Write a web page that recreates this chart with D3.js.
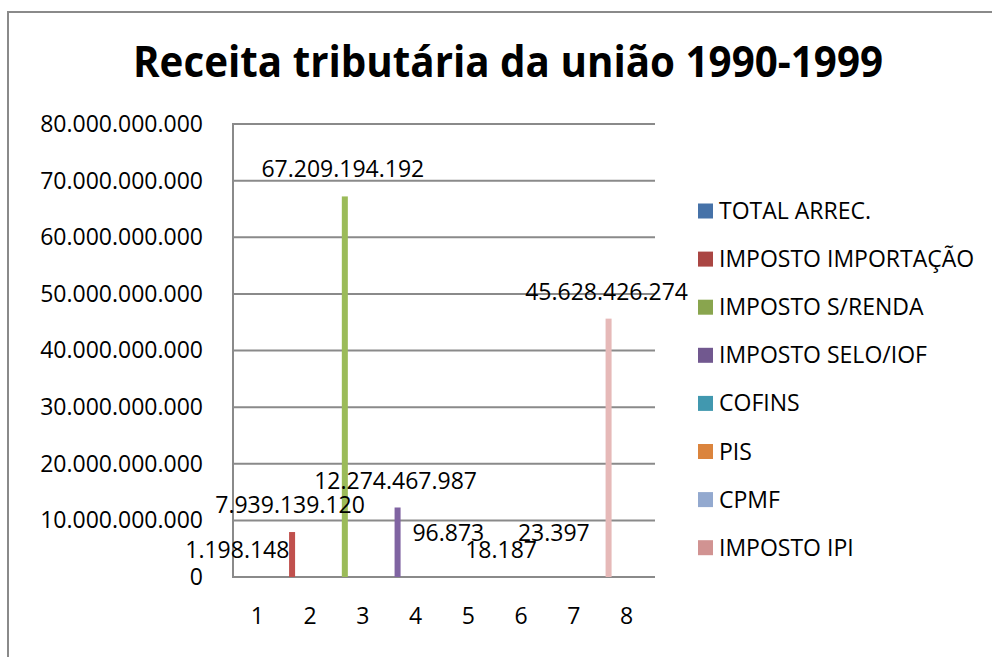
<!DOCTYPE html>
<html>
<head>
<meta charset="utf-8">
<script src="https://cdn.jsdelivr.net/npm/d3@7"></script>
<style>
    body { margin: 0; background: #ffffff; }
    text { font-family: "Open Sans", sans-serif; fill: #000; }
</style>
</head>
<body>
<svg id="drawing_region"></svg>
<script>
const categories = ['1', '2', '3', '4', '5', '6', '7', '8'];
const seriesNames = ['TOTAL ARREC.', 'IMPOSTO IMPORTAÇÃO', 'IMPOSTO S/RENDA', 'IMPOSTO SELO/IOF',
                     'COFINS', 'PIS', 'CPMF', 'IMPOSTO IPI'];
// each series only has a value in its own category
const seriesValues = [1198148, 7939139120, 67209194192, 12274467987, 96873, 18187, 23397, 45628426274];
const yTicks = [0, 10e9, 20e9, 30e9, 40e9, 50e9, 60e9, 70e9, 80e9];

const barColors = ['#4F81BD', '#C0504D', '#9BBB59', '#8064A2', '#4BACC6', '#F79646', '#95B3D7', '#E6B9B8'];
const legendColors = ['#4672A8', '#AA4643', '#89A54E', '#71588F', '#4198AF', '#DB843D', '#93A9CF', '#D19392'];
// extra lift of a few labels, as they were moved in the original
const labelLift = [0, 0, 0, 0, 17, 0, 17, 0];

const ptBR = d3.formatLocale({ decimal: ',', thousands: '.', grouping: [3], currency: ['R$', ''] });
const fmt = ptBR.format(',d');

const config = {
    parent: '#drawing_region',
    width: 992,
    height: 657,
    fontSize: 23,
    plot: { left: 233, right: 655, top: 124, bottom: 577 }
};

class BarChart {
    constructor( config ) {
        this.config = config;
        this.init();
    }

    init() {
        let self = this;
        self.svg = d3.select( self.config.parent )
            .attr('width', self.config.width)
            .attr('height', self.config.height);

        const p = self.config.plot;
        self.x = d3.scaleBand().domain(categories).range([p.left, p.right]).padding(0);
        self.y = d3.scaleLinear().domain([0, 80e9]).range([p.bottom, p.top]);
    }

    render() {
        let self = this;
        const p = self.config.plot;
        const fs = self.config.fontSize;
        const bw = self.x.bandwidth();

        // chart border
        self.svg.append('rect')
            .attr('x', 8).attr('y', 12)
            .attr('width', 1000).attr('height', 700)
            .attr('fill', 'none')
            .attr('stroke', '#8a8a8a')
            .attr('stroke-width', 2);

        self.svg.append('text')
            .attr('x', 508).attr('y', 77)
            .attr('text-anchor', 'middle')
            .attr('font-size', 43)
            .attr('font-weight', 'bold')
            .attr('textLength', 750)
            .attr('lengthAdjust', 'spacingAndGlyphs')
            .text('Receita tributária da união 1990-1999');

        // gridlines
        self.svg.append('g')
            .selectAll('line')
            .data(yTicks)
            .join('line')
            .attr('x1', p.left).attr('x2', p.right)
            .attr('y1', d => self.y(d)).attr('y2', d => self.y(d))
            .attr('stroke', '#8a8a8a')
            .attr('stroke-width', 2);

        // y axis
        const yAxis = self.svg.append('g')
            .attr('transform', `translate(${p.left},0)`)
            .call(d3.axisLeft(self.y).tickValues(yTicks).tickFormat(fmt).tickSize(0).tickPadding(30));
        yAxis.select('.domain')
            .attr('stroke', '#8a8a8a').attr('stroke-width', 2)
            .attr('d', `M0,${p.top - 1}V${p.bottom + 1}`);
        yAxis.selectAll('text')
            .attr('font-size', fs)
            .attr('font-family', '"Open Sans", sans-serif')
            .attr('fill', '#000');

        // x axis
        const xAxis = self.svg.append('g')
            .attr('transform', `translate(0,${p.bottom})`)
            .call(d3.axisBottom(self.x).tickSize(0).tickPadding(31));
        xAxis.select('.domain').remove();
        xAxis.selectAll('text')
            .attr('font-size', fs)
            .attr('font-family', '"Open Sans", sans-serif')
            .attr('fill', '#000')
            .attr('dx', -2);

        const bars = seriesValues.map( (v, i) => ({ name: seriesNames[i], cat: categories[i], value: v, i: i }) );

        self.svg.append('g')
            .selectAll('rect')
            .data(bars)
            .join('rect')
            .attr('x', d => self.x(d.cat) + bw * 0.063)
            .attr('width', bw * 0.114)
            .attr('y', d => self.y(d.value))
            .attr('height', d => self.y(0) - self.y(d.value))
            .attr('fill', d => barColors[d.i]);

        self.svg.append('g')
            .selectAll('text')
            .data(bars)
            .join('text')
            .attr('x', d => self.x(d.cat) + bw * 0.12 - 2)
            .attr('y', d => self.y(d.value) - 27 - labelLift[d.i])
            .attr('dy', '0.35em')
            .attr('text-anchor', 'middle')
            .attr('font-size', fs)
            .text(d => fmt(d.value));

        // legend
        const legend = self.svg.append('g')
            .selectAll('g')
            .data(seriesNames)
            .join('g')
            .attr('transform', (d, i) => `translate(698,${211 + i * 48.1})`);
        legend.append('rect')
            .attr('x', 0).attr('y', -7.5)
            .attr('width', 15).attr('height', 15)
            .attr('fill', (d, i) => legendColors[i]);
        legend.append('text')
            .attr('x', 21).attr('dy', '0.35em')
            .attr('font-size', fs)
            .text(d => d);
    }
}

const chart = new BarChart( config );
chart.render();
</script>
</body>
</html>
